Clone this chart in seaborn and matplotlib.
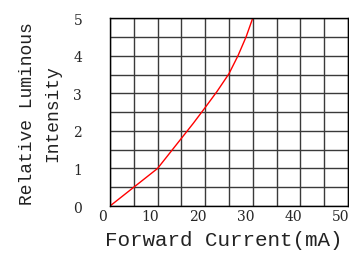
import numpy as np
import pandas as pd
import seaborn as sns
import matplotlib.pyplot as plt
from matplotlib.transforms import ScaledTranslation

# forward current (mA) vs relative luminous intensity
current = [0, 5, 10, 12.5, 15, 17.5, 20, 22.5, 25, 26.9, 28.6, 30]
intensity = [0, 0.5, 1.0, 1.4, 1.8, 2.2, 2.62, 3.05, 3.52, 4.0, 4.5, 5.0]

x_ticks = [0, 10, 20, 30, 40, 50]
y_ticks = [0, 1, 2, 3, 4, 5]

df = pd.DataFrame({"current": current, "intensity": intensity})

sns.set_style("white")
plt.rcParams['font.family'] = ['DejaVu Serif', 'DejaVu Sans']

fig = plt.figure(figsize=(3.49, 2.55), dpi=100)
ax = fig.add_axes([0.315, 0.188, 0.682, 0.737])

sns.lineplot(data=df, x="current", y="intensity", color="red", lw=1, ax=ax)

ax.set_xlim(0, 50)
ax.set_ylim(0, 5)
ax.set_xticks(np.arange(0, 51, 5))
ax.set_yticks(np.arange(0, 5.01, 0.5))
ax.set_xticklabels([str(v) if v in x_ticks else "" for v in range(0, 51, 5)], fontsize=10)
ax.set_yticklabels([str(int(v)) if v in y_ticks else "" for v in np.arange(0, 5.01, 0.5)],
                   fontsize=10)
ax.tick_params(axis="x", length=0, pad=2)
ax.tick_params(axis="y", length=0, pad=20)
# x tick labels sit a little left of their grid lines in the original
shift = ScaledTranslation(-7 / 100, 0, fig.dpi_scale_trans)
for lab in ax.get_xticklabels():
    lab.set_transform(lab.get_transform() + shift)

ax.grid(True, color="#3a3a3a", lw=1)
for s in ax.spines.values():
    s.set_color("black")
    s.set_linewidth(1)
ax.set_xlabel("")
ax.set_ylabel("")

fig.text(0.642, 0.058, "Forward Current(mA)", fontsize=15, family="Liberation Mono",
         ha="center", va="center", color="#222222")
fig.text(0.115, 0.555, "Relative Luminous\nIntensity", fontsize=13, family="Liberation Mono",
         ha="center", va="center", rotation=90, linespacing=1.6, color="#222222")

fig.savefig("out.png", dpi=100)
